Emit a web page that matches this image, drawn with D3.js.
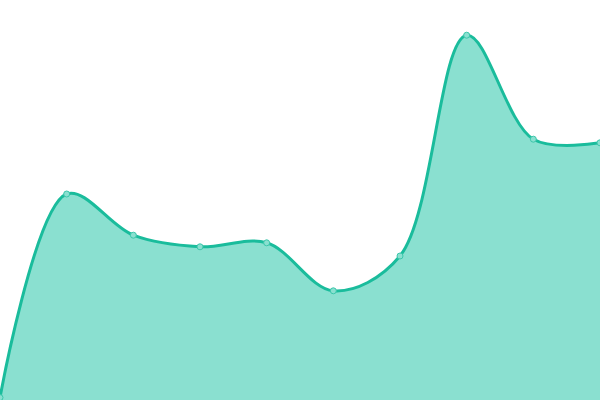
<!DOCTYPE html>
<html>
<head>
<meta charset="utf-8">
<script src="https://cdn.jsdelivr.net/npm/d3@7"></script>
<style>
  html, body { margin: 0; padding: 0; background: #fff; }
  svg { display: block; }
</style>
</head>
<body>
<svg id="chart"></svg>
<script>
// ten points, evenly spaced, no axes shown
var labels = ["1", "2", "3", "4", "5", "6", "7", "8", "9", "10"];
var values = [0.6, 51.5, 41.2, 38.3, 39.3, 27.3, 36.0, 91.2, 65.2, 64.3];

var screen = {width: 600, height: 400};

var svg = d3.select("#chart")
  .attr("width", screen.width)
  .attr("height", screen.height);

var xScale = d3.scalePoint()
  .domain(labels)
  .range([0, screen.width]);

var yScale = d3.scaleLinear()
  .domain([0, 100])
  .range([screen.height, 0]);

var curve = d3.curveCatmullRom.alpha(0.5);

var area = d3.area()
  .x(function(d, i) { return xScale(labels[i]); })
  .y0(yScale(0))
  .y1(function(d) { return yScale(d); })
  .curve(curve);

var line = d3.line()
  .x(function(d, i) { return xScale(labels[i]); })
  .y(function(d) { return yScale(d); })
  .curve(curve);

svg.append("path")
  .datum(values)
  .attr("d", area)
  .attr("fill", "#8ae0d0");

svg.append("path")
  .datum(values)
  .attr("d", line)
  .attr("fill", "none")
  .attr("stroke", "#1abc9c")
  .attr("stroke-width", 3);

svg.selectAll("circle")
  .data(values)
  .enter()
  .append("circle")
  .attr("cx", function(d, i) { return xScale(labels[i]); })
  .attr("cy", function(d) { return yScale(d); })
  .attr("r", 3)
  .attr("fill", "#8ae0d0")
  .attr("stroke", "#3cc7ab")
  .attr("stroke-width", 1);
</script>
</body>
</html>
